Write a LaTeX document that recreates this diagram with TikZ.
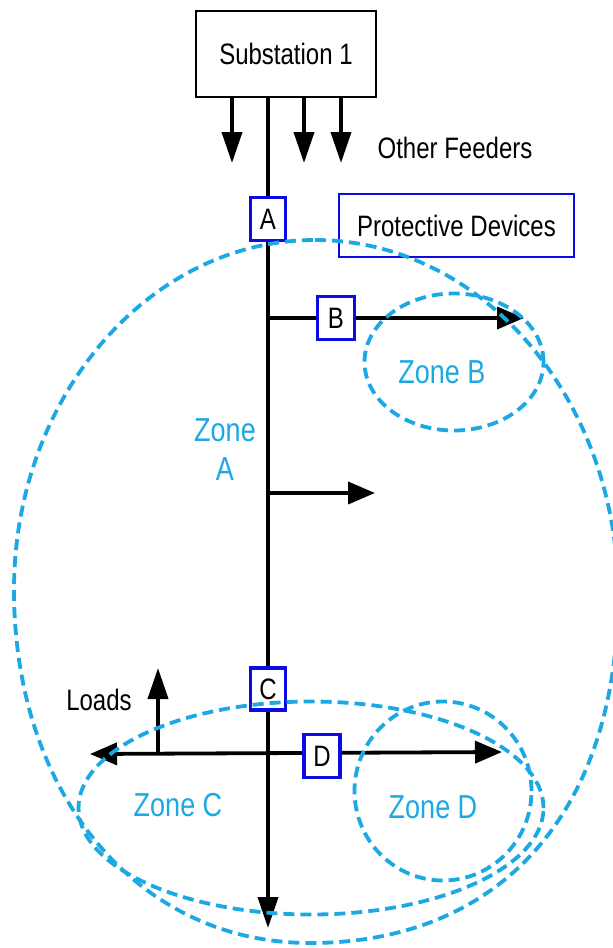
\documentclass[tikz,border=0pt]{standalone}
\usepackage{fontspec}
\setmainfont{Liberation Sans}
\usetikzlibrary{arrows.meta,shapes.geometric}
\definecolor{zonecol}{RGB}{28,168,226}
\definecolor{devblue}{RGB}{12,12,225}
\newcommand{\vtxt}[1]{\scalebox{1}[1.23]{#1}}
\begin{document}
\begin{tikzpicture}[x=1pt,y=-1pt,
  feeder/.style={line width=3.8pt, draw=black},
  arr/.style={feeder, -{Triangle[length=31pt,width=20pt]}},
  harr/.style={feeder, -{Triangle[length=27pt,width=22pt]}},
  darr/.style={feeder, {Triangle[length=27pt,width=22pt]}-{Triangle[length=27pt,width=22pt]}},
  dev/.style={draw=devblue, line width=3.4pt, fill=white, minimum width=35pt, minimum height=43pt, inner sep=0pt, font=\fontsize{24}{28}\selectfont},
  zone/.style={draw=zonecol, line width=3.8pt, dash pattern=on 11pt off 6pt},
  zoneshape/.style={zone, ellipse, inner sep=0pt},
  zonelbl/.style={text=zonecol, font=\fontsize{27}{31.7}\selectfont, inner sep=0pt},
  lbl/.style={font=\fontsize{24}{28}\selectfont, inner sep=0pt}]
\useasboundingbox (0,0) rectangle (613,948);

% substation
\node[draw=black, line width=2.4pt, minimum width=180pt, minimum height=86pt, inner sep=0pt, font=\fontsize{24}{28}\selectfont] (sub) at (286,54) {\vtxt{Substation 1}};

% coordinates
\coordinate (f1) at (232,163);
\coordinate (f2) at (304,163);
\coordinate (f3) at (341,163);
\coordinate (main) at (268,98);
\coordinate (bottomtip) at (268,928);
\coordinate (jB) at (268,318);
\coordinate (tipB) at (524,318);
\coordinate (jM) at (268,493);
\coordinate (tipM) at (375,493);
\coordinate (tipL) at (90,754);
\coordinate (tipR) at (502,752);
\coordinate (loadbase) at (158,753);
\coordinate (loadtip) at (158,668);

% feeders
\draw[arr] (f1 |- sub.south) -- (f1);
\draw[arr] (f2 |- sub.south) -- (f2);
\draw[arr] (f3 |- sub.south) -- (f3);
\draw[arr] (main |- sub.south) -- (bottomtip);
\draw[harr] (jB) -- (tipB);
\draw[harr] (jM) -- (tipM);
\draw[darr] (tipL) -- (tipR);
\draw[arr] (loadbase) -- (loadtip);

% protective devices
\node[dev] (A) at (268,219) {\vtxt{A}};
\node[dev, minimum width=37pt] (B) at (336,318) {\vtxt{B}};
\node[dev, minimum height=42pt] (C) at (268,689) {\vtxt{C}};
\node[dev, minimum width=36pt] (D) at (322,756) {\vtxt{D}};
\node[draw=devblue, line width=2.4pt, minimum width=235pt, minimum height=63pt, inner sep=0pt, font=\fontsize{24}{28}\selectfont] (pd) at (456.5,225.5) {\vtxt{Protective Devices}};

\node[lbl] (other) at (455,148) {\vtxt{Other Feeders}};
\node[lbl] (loads) at (99,700) {\vtxt{Loads}};

% zones
\draw[zone] (315,240) .. controls (482,240) and (618,399) .. (618,595)
  .. controls (618,811) and (501,943) .. (310,943)
  .. controls (138,943) and (14,795) .. (14,590)
  .. controls (14,397) and (149,240) .. (315,240) -- cycle;
\node[zoneshape, minimum width=179pt, minimum height=137pt] (zB) at (454,362) {};
\node[zoneshape, minimum width=465pt, minimum height=213pt] (zC) at (311,808) {};
\node[zoneshape, minimum width=177pt, minimum height=179pt] (zD) at (443,791) {};

\node[zonelbl, align=center] (lA) at (225,453) {\vtxt{\begin{tabular}{@{}c@{}}Zone\\A\end{tabular}}};
\node[zonelbl] (lB) at (442,372) {\vtxt{Zone B}};
\node[zonelbl] (lC) at (178,805) {\vtxt{Zone C}};
\node[zonelbl] (lD) at (433,807) {\vtxt{Zone D}};
\end{tikzpicture}
\end{document}
